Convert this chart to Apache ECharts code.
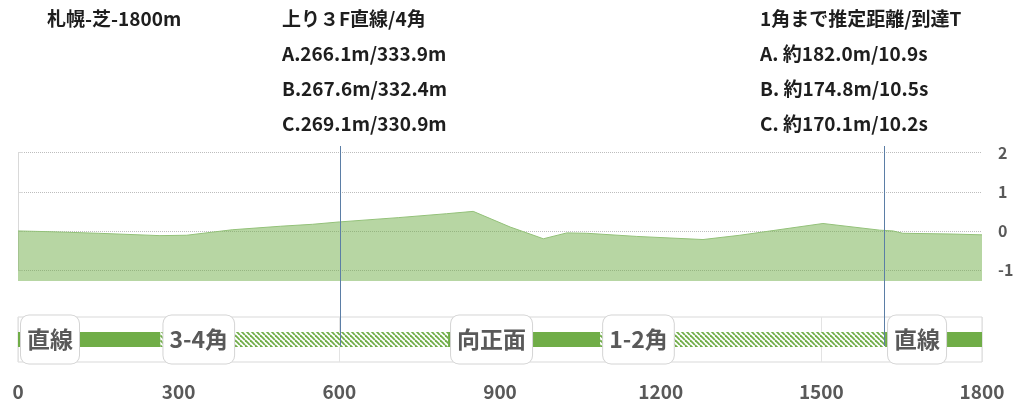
<!DOCTYPE html>
<html>
<head>
<meta charset="utf-8">
<script src="https://cdn.jsdelivr.net/npm/echarts/dist/echarts.min.js"></script>
<style>
html, body { margin: 0; background: #fff; }
#main { width: 1024px; height: 418px; }
</style>
</head>
<body>
<div id="main"></div>
<script>
// 高低差 (m) : x = ゴールからの距離
var elevX = [0, 60, 150, 265, 315, 400, 490, 550, 600, 710, 800, 850, 919, 981, 1025, 1062, 1155, 1279, 1348, 1503, 1609, 1634, 1652, 1746, 1800];
var elevY = [0.0, -0.02, -0.06, -0.12, -0.11, 0.03, 0.12, 0.17, 0.23, 0.34, 0.44, 0.50, 0.10, -0.20, -0.05, -0.06, -0.14, -0.22, -0.11, 0.19, 0.02, 0.0, -0.06, -0.08, -0.10];

// コース区間
var segNames = ['直線', '3-4角', '向正面', '1-2角', '直線'];
var segEnds = [266, 803, 1087, 1619, 1800];

// 縦線 (上り3F / 1角)
var markerX = [601, 1618];

var titleMain = ['札幌-芝-1800m'];
var lap3Lines = ['上り３F直線/4角', 'A.266.1m/333.9m', 'B.267.6m/332.4m', 'C.269.1m/330.9m'];
var cornerLines = ['1角まで推定距離/到達T', 'A. 約182.0m/10.9s', 'B. 約174.8m/10.5s', 'C. 約170.1m/10.2s'];

var elevTicks = [-1, 0, 1, 2];

var font = '"Noto Sans CJK JP", "Noto Sans", sans-serif';
var green = '#70AD47';

// 斜線パターン
var hatch = document.createElement('canvas');
hatch.width = 5;
hatch.height = 5;
var g = hatch.getContext('2d');
g.fillStyle = '#fff';
g.fillRect(0, 0, 5, 5);
g.strokeStyle = green;
g.lineWidth = 1.8;
[-5, 0, 5].forEach(function (o) {
  g.beginPath();
  g.moveTo(o, 0);
  g.lineTo(o + 5, 5);
  g.stroke();
});

var elevData = elevX.map(function (x, i) { return [x, elevY[i]]; });

var titleStyle = { fontFamily: font, fontSize: 19, fontWeight: 'bold', color: '#1e1e1e', lineHeight: 35 };

var series = [{
  type: 'line',
  xAxisIndex: 1,
  yAxisIndex: 1,
  data: elevData,
  showSymbol: false,
  lineStyle: { color: '#93c179', width: 1 },
  areaStyle: { color: 'rgba(112,173,71,0.5)', opacity: 1, origin: 'start' },
  silent: true
}];

var prev = 0;
segNames.forEach(function (name, i) {
  var corner = name.indexOf('角') >= 0;
  series.push({
    type: 'bar',
    name: name,
    stack: 'track',
    xAxisIndex: 2,
    yAxisIndex: 2,
    barWidth: 15,
    data: [segEnds[i] - prev],
    itemStyle: { color: corner ? { image: hatch, repeat: 'repeat' } : green },
    label: {
      show: true,
      position: 'insideLeft',
      distance: 3,
      formatter: name,
      fontFamily: font,
      fontSize: 23,
      fontWeight: 'bold',
      color: '#595959',
      lineHeight: 32,
      padding: [8, 6],
      backgroundColor: '#fff',
      borderColor: '#d4d4d4',
      borderWidth: 1,
      borderRadius: 8
    },
    silent: true
  });
  prev = segEnds[i];
});

series.push({
  type: 'line',
  xAxisIndex: 3,
  yAxisIndex: 3,
  data: [],
  markLine: {
    silent: true,
    symbol: ['none', 'none'],
    label: { show: false },
    lineStyle: { color: '#5b7ea6', width: 1, type: 'solid' },
    data: markerX.map(function (x) { return { xAxis: x }; })
  }
});

var hiddenX = function (idx) {
  return { type: 'value', gridIndex: idx, min: 0, max: 1800, show: false };
};

var option = {
  animation: false,
  title: [
    { text: titleMain.join('\n'), left: 47, top: 1, padding: 0, textStyle: titleStyle },
    { text: lap3Lines.join('\n'), left: 282, top: 1, padding: 0, textStyle: titleStyle },
    { text: cornerLines.join('\n'), left: 760, top: 1, padding: 0, textStyle: titleStyle }
  ],
  grid: [
    { left: 18, right: 42, top: 152.7, height: 117.3 },
    { left: 18, right: 42, top: 152.7, height: 128.3 },
    { left: 18, right: 42, top: 317, height: 45, show: true, borderColor: '#d9d9d9', borderWidth: 1 },
    { left: 18, right: 42, top: 146, height: 200 }
  ],
  xAxis: [
    hiddenX(0),
    hiddenX(1),
    {
      type: 'value', gridIndex: 2, min: 0, max: 1800, interval: 300,
      axisLine: { show: false },
      axisTick: { show: false },
      splitLine: { show: true, lineStyle: { color: '#e3e3e3', width: 1 } },
      axisLabel: {
        fontFamily: font, fontSize: 19, fontWeight: 'bold', color: '#595959', margin: 20,
        formatter: function (v) { return String(v); }
      }
    },
    hiddenX(3)
  ],
  yAxis: [
    {
      type: 'value', gridIndex: 0, position: 'right',
      min: elevTicks[0], max: elevTicks[elevTicks.length - 1], interval: 1,
      axisLine: { show: true, lineStyle: { color: '#d9d9d9' } },
      axisTick: { show: true, length: 5, lineStyle: { color: '#d9d9d9' } },
      splitLine: { show: true, lineStyle: { color: '#bdbdbd', type: 'dotted' } },
      axisLabel: { fontFamily: font, fontSize: 16, fontWeight: 'bold', color: '#595959', margin: 16 }
    },
    { type: 'value', gridIndex: 1, min: -1.28, max: 2, show: false },
    { type: 'category', gridIndex: 2, data: ['コース'], show: false },
    { type: 'value', gridIndex: 3, min: 0, max: 1, show: false }
  ],
  series: series
};

var chart = echarts.init(document.getElementById('main'));
chart.setOption(option);
</script>
</body>
</html>
